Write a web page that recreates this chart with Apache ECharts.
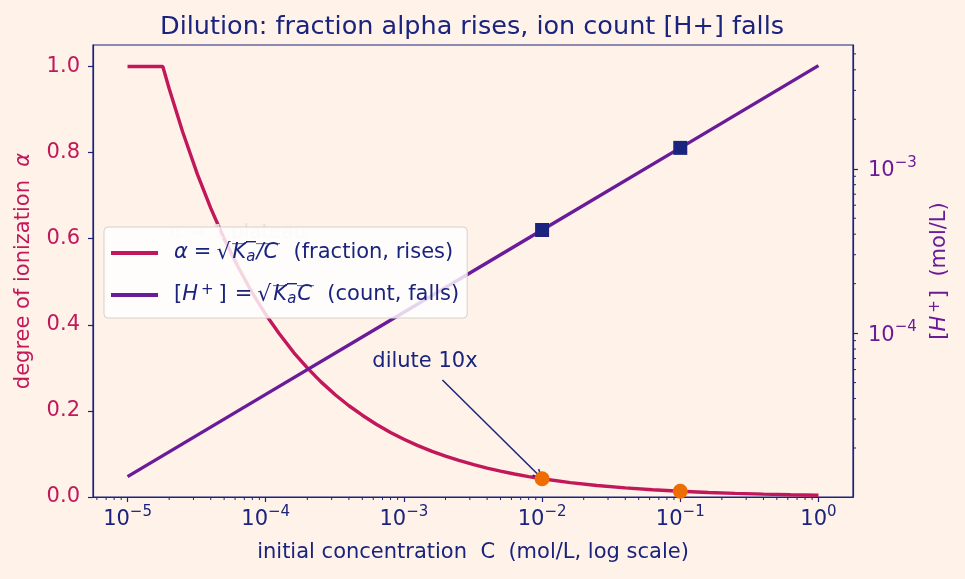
<!DOCTYPE html>
<html>
<head>
<meta charset="utf-8">
<script src="https://cdn.jsdelivr.net/npm/echarts@6/dist/echarts.min.js"></script>
<style>
  html, body { margin: 0; padding: 0; background: #fff2e8; }
  #main { width: 965px; height: 579px; }
</style>
</head>
<body>
<div id="main"></div>
<script>
// concentrations (mol/L) and degree of ionization
var concAlpha = [1e-5, 1.25e-5, 1.6e-5, 1.8e-5, 2e-5, 2.5e-5, 3.2e-5, 4e-5, 5e-5, 6.3e-5, 8e-5,
  1e-4, 1.25e-4, 1.6e-4, 2e-4, 2.5e-4, 3.2e-4, 4e-4, 5e-4, 6.3e-4, 8e-4,
  1e-3, 1.25e-3, 1.6e-3, 2e-3, 2.5e-3, 3.2e-3, 4e-3, 5e-3, 6.3e-3, 8e-3,
  1e-2, 1.6e-2, 2.5e-2, 4e-2, 6.3e-2, 1e-1, 1.6e-1, 2.5e-1, 4e-1, 6.3e-1, 1];
var alphaValues = [1.0, 1.0, 1.0, 1.0, 0.949, 0.849, 0.750, 0.671, 0.600, 0.535, 0.474,
  0.424, 0.380, 0.335, 0.300, 0.268, 0.237, 0.212, 0.190, 0.169, 0.150,
  0.134, 0.120, 0.106, 0.095, 0.085, 0.075, 0.067, 0.060, 0.0535, 0.0474,
  0.0424, 0.0335, 0.0268, 0.0212, 0.0169, 0.0134, 0.0106, 0.0085, 0.0067, 0.0053, 0.0042];

// [H+] line
var concH = [1e-5, 1e-4, 1e-3, 1e-2, 1e-1, 1];
var hValues = [1.34e-5, 4.24e-5, 1.34e-4, 4.24e-4, 1.34e-3, 4.24e-3];

// highlighted points (dilute 10x)
var markConc = [1e-2, 1e-1];
var markAlpha = [0.0424, 0.0134];
var markH = [4.24e-4, 1.34e-3];

// tick labels (base, exponent)
var xTicks = [1e-5, 1e-4, 1e-3, 1e-2, 1e-1, 1];
var xTickExps = ['−5', '−4', '−3', '−2', '−1', '0'];
var hTicks = [1e-4, 1e-3];
var hTickExps = ['−4', '−3'];

var navy = '#1a237e';
var crimson = '#c2185b';
var purple = '#6a1b9a';
var orange = '#ef6c00';
var font = 'DejaVu Sans';

var xMin = Math.pow(10, -5.25), xMax = Math.pow(10, 0.25);
var hMin = Math.pow(10, -4.997), hMax = Math.pow(10, -2.247);

// minor log ticks (2..9 x decade) inside the axis ranges
function minorTicks(lo, hi) {
  var out = [];
  for (var e = -7; e <= 1; e++) {
    for (var m = 2; m <= 9; m++) {
      var v = m * Math.pow(10, e);
      if (v > lo && v < hi) out.push(v);
    }
  }
  return out;
}

function pickLabel(v, ticks, exps) {
  for (var i = 0; i < ticks.length; i++) {
    if (Math.abs(Math.log10(v) - Math.log10(ticks[i])) < 0.01) return '{b|10}{s|' + exps[i] + '}';
  }
  return '';
}

var supRich = {
  b: { fontSize: 21, lineHeight: 22, padding: [4, 0, 0, 0], fontFamily: font },
  s: { fontSize: 15, lineHeight: 14, padding: [0, 0, 12, 0], fontFamily: font }
};

// overbar for the square root in the legend
var barCanvas = document.createElement('canvas');
barCanvas.width = 8;
barCanvas.height = 24;
var bctx = barCanvas.getContext('2d');
bctx.fillStyle = navy;
bctx.fillRect(0, 0, 8, 1.4);

var lg = 21;
var legendRich = {
  n: { fontSize: lg, lineHeight: 24, color: navy, fontFamily: font },
  it: { fontSize: lg, lineHeight: 24, color: navy, fontStyle: 'italic', fontFamily: font },
  eq: { fontSize: lg, lineHeight: 24, color: navy, fontFamily: font, padding: [0, 4, 0, 6] },
  eq2: { fontSize: lg, lineHeight: 24, color: navy, fontFamily: font, padding: [0, 4, 0, 8] },
  rt: { fontSize: 22, lineHeight: 24, color: navy, fontFamily: font, padding: [0, 2, 0, 1] },
  ov: { fontSize: lg, lineHeight: 24, color: navy, fontStyle: 'italic', fontFamily: font, backgroundColor: { image: barCanvas } },
  ovs: { fontSize: 15, lineHeight: 15, padding: [9, 1, 0, 0], color: navy, fontStyle: 'italic', fontFamily: font, backgroundColor: { image: barCanvas } },
  ove: { fontSize: lg, lineHeight: 24, color: navy, fontStyle: 'italic', fontFamily: font, padding: [0, 2, 0, 0], backgroundColor: { image: barCanvas } },
  sup: { fontSize: 15, lineHeight: 15, padding: [0, 5, 9, 3], color: navy, fontFamily: font }
};

var nameRich = {
  n: { fontSize: 21, color: purple, fontFamily: font, lineHeight: 24 },
  it: { fontSize: 21, color: purple, fontFamily: font, fontStyle: 'italic', lineHeight: 24 },
  sp: { fontSize: 15, lineHeight: 15, padding: [0, 2, 9, 3], color: purple, fontFamily: font },
  c: { fontSize: 21, color: crimson, fontFamily: font, lineHeight: 24 },
  ci: { fontSize: 21, color: crimson, fontFamily: font, fontStyle: 'italic', lineHeight: 24 }
};

var myChart = echarts.init(document.getElementById('main'));

myChart.setOption({
  animation: false,
  backgroundColor: '#fff2e8',
  textStyle: { fontFamily: font },
  title: {
    text: 'Dilution: fraction alpha rises, ion count [H+] falls',
    left: 467,
    top: 9,
    textAlign: 'center',
    textStyle: { color: navy, fontSize: 25.5, fontWeight: 'normal', fontFamily: font }
  },
  grid: {
    left: 93, right: 112, top: 45, bottom: 82,
    show: true, borderColor: navy, borderWidth: 1.2
  },
  legend: {
    orient: 'vertical',
    left: 104,
    top: 227,
    padding: [14, 8, 11, 7],
    itemWidth: 47,
    itemHeight: 4,
    itemGap: 18,
    icon: 'rect',
    backgroundColor: 'rgba(255,255,255,0.82)',
    borderColor: '#d6d0cc',
    borderWidth: 1,
    borderRadius: 4,
    z: 10,
    data: ['alpha', 'H'],
    formatter: function (name) {
      if (name === 'alpha') return '{it|α}{eq|=}{rt|√}{ov|K}{ovs|a}{ove|/C}{n|  (fraction, rises)}';
      return '{n|[}{it|H}{sup|+}{n|]}{eq2|=}{rt|√}{ov|K}{ovs|a}{ove|C}{n|  (count, falls)}';
    },
    textStyle: {
      color: navy, fontSize: lg, fontFamily: font, padding: [0, 0, 0, 11],
      rich: legendRich
    }
  },
  xAxis: {
    type: 'log',
    min: xMin,
    max: xMax,
    name: 'initial concentration  C  (mol/L, log scale)',
    nameLocation: 'middle',
    nameGap: 45,
    nameTextStyle: { color: navy, fontSize: 21, fontFamily: font },
    axisLine: { lineStyle: { color: navy, width: 1.2 } },
    axisTick: { length: 5, lineStyle: { color: navy, width: 1.2 } },
    axisLabel: {
      color: navy, fontSize: 21, margin: 10, fontFamily: font,
      showMinLabel: false, showMaxLabel: false,
      formatter: function (v) { return pickLabel(v, xTicks, xTickExps); },
      rich: supRich
    },
    splitLine: { show: false }
  },
  yAxis: [
    {
      type: 'value',
      min: 0,
      max: 1.05,
      interval: 0.2,
      name: '{c|degree of ionization  }{ci|α}',
      nameLocation: 'middle',
      nameGap: 57,
      nameTextStyle: { color: crimson, fontSize: 21, fontFamily: font, rich: nameRich },
      axisLine: { show: true, lineStyle: { color: navy, width: 1.2 } },
      axisTick: { show: true, length: 5, lineStyle: { color: navy, width: 1.2 } },
      axisLabel: {
        color: crimson, fontSize: 21, margin: 13, fontFamily: font,
        showMaxLabel: false,
        formatter: function (v) { return v > 1.01 ? '' : v.toFixed(1); }
      },
      splitLine: { show: false }
    },
    {
      type: 'log',
      min: hMin,
      max: hMax,
      position: 'right',
      alignTicks: false,
      name: '{n|[}{it|H}{sp|+}{n|]  (mol/L)}',
      nameLocation: 'middle',
      nameGap: 72,
      nameRotate: 90,
      nameTextStyle: { color: purple, fontSize: 21, fontFamily: font, rich: nameRich },
      axisLine: { show: true, lineStyle: { color: navy, width: 1.2 } },
      axisTick: { show: true, length: 5, lineStyle: { color: navy, width: 1.2 } },
      axisLabel: {
        color: purple, fontSize: 21, margin: 15, fontFamily: font,
        showMinLabel: false, showMaxLabel: false,
        formatter: function (v) { return pickLabel(v, hTicks, hTickExps); },
        rich: supRich
      },
      splitLine: { show: false }
    }
  ],
  series: [
    {
      name: 'alpha',
      type: 'line',
      yAxisIndex: 0,
      showSymbol: false,
      symbol: 'none',
      color: crimson,
      lineStyle: { color: crimson, width: 3.4 },
      data: concAlpha.map(function (c, i) { return [c, alphaValues[i]]; }),
      z: 3,
      markLine: {
        silent: true,
        symbol: ['none', 'path://M0,11 L5,0 L10,11 L8.6,11.6 L5,3.2 L1.4,11.6 Z'],
        symbolSize: [10, 10],
        lineStyle: { color: navy, width: 1.5, type: 'solid', opacity: 1 },
        label: { show: false },
        data: [[{ coord: [1.9e-3, 0.272] }, { coord: [9.5e-3, 0.05] }]]
      },
      markPoint: {
        silent: true,
        symbol: 'circle',
        symbolSize: 0,
        data: [
          {
            coord: [1.42e-3, 0.314],
            label: { show: true, formatter: 'dilute 10x', color: navy, fontSize: 21, fontFamily: font, position: 'inside' }
          },
          {
            coord: [2.0e-5, 0.613],
            label: {
              show: true, formatter: 'α → 1 plateau', color: '#e9dede',
              fontSize: 20, fontFamily: font, position: 'right', distance: 0
            }
          }
        ]
      }
    },
    {
      name: 'H',
      type: 'line',
      yAxisIndex: 1,
      showSymbol: false,
      symbol: 'none',
      color: purple,
      lineStyle: { color: purple, width: 3.4 },
      data: concH.map(function (c, i) { return [c, hValues[i]]; }),
      z: 3
    },
    {
      name: 'alphaPts',
      type: 'scatter',
      yAxisIndex: 0,
      symbol: 'circle',
      symbolSize: 15,
      itemStyle: { color: orange, opacity: 1 },
      data: markConc.map(function (c, i) { return [c, markAlpha[i]]; }),
      z: 5
    },
    {
      name: 'hPts',
      type: 'scatter',
      yAxisIndex: 1,
      symbol: 'rect',
      symbolSize: 14,
      itemStyle: { color: navy, opacity: 1 },
      data: markConc.map(function (c, i) { return [c, markH[i]]; }),
      z: 5
    },
    {
      name: 'xMinor',
      type: 'custom',
      yAxisIndex: 0,
      silent: true,
      data: minorTicks(xMin, xMax).map(function (v) { return [v, 0]; }),
      renderItem: function (params, api) {
        var p = api.coord([api.value(0), 0]);
        return {
          type: 'line',
          shape: { x1: p[0], y1: p[1], x2: p[0], y2: p[1] + 3 },
          style: { stroke: navy, lineWidth: 1 }
        };
      }
    },
    {
      name: 'hMinor',
      type: 'custom',
      yAxisIndex: 1,
      silent: true,
      data: minorTicks(hMin, hMax).map(function (v) { return [xMax, v]; }),
      renderItem: function (params, api) {
        var p = api.coord([xMax, api.value(1)]);
        return {
          type: 'line',
          shape: { x1: p[0], y1: p[1], x2: p[0] + 3, y2: p[1] },
          style: { stroke: navy, lineWidth: 1 }
        };
      }
    }
  ]
});
</script>
</body>
</html>
